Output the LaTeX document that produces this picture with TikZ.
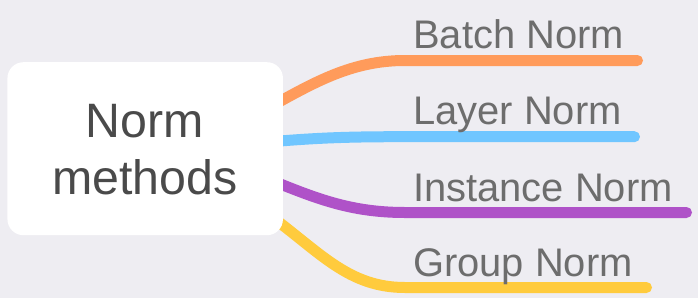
\documentclass[tikz,border=0pt]{standalone}
\usepackage{fontspec}
\setmainfont{Liberation Sans}
\definecolor{canvas}{HTML}{EEEDF2}
\definecolor{rootink}{HTML}{4A4A4A}
\definecolor{leafink}{HTML}{6D6D6D}
\definecolor{brOrange}{HTML}{FF9B5B}
\definecolor{brBlue}{HTML}{70C6FF}
\definecolor{brPurple}{HTML}{AF52C8}
\definecolor{brYellow}{HTML}{FFCB3D}
\tikzset{
  rootbox/.style={fill=white, rounded corners=16pt, minimum width=275.5pt,
    minimum height=173pt, inner sep=0pt, outer sep=0pt},
  roottext/.style={text=rootink, font=\fontsize{48.3}{57}\selectfont,
    anchor=base, inner sep=0pt},
  leaftext/.style={text=leafink, font=\fontsize{39.9}{46}\selectfont,
    anchor=base west, inner sep=0pt},
  branch/.style={line width=11pt, line cap=round},
}
\begin{document}
\begin{tikzpicture}[x=1pt, y=-1pt]
  \fill[canvas] (0,0) rectangle (698,298);
  \useasboundingbox (0,0) rectangle (698,298);

  % branch start points (hidden behind the root box) and ends
  \coordinate (sA) at (268,108);   \coordinate (kA) at (405,60.5);  \coordinate (eA) at (637.5,60.5);
  \coordinate (sB) at (268,142);   \coordinate (kB) at (400,136.7); \coordinate (eB) at (634.5,136.7);
  \coordinate (sC) at (268,179);   \coordinate (kC) at (405,212.5); \coordinate (eC) at (686.5,212.5);
  \coordinate (sD) at (268,214);   \coordinate (kD) at (405,287.5); \coordinate (eD) at (646.5,287.5);

  % branches
  \draw[branch, brOrange] (sA) .. controls (315,82) and (352,60.5) .. (kA) -- (eA);
  \draw[branch, brBlue]   (sB) .. controls (315,138) and (345,136.7) .. (kB) -- (eB);
  \draw[branch, brPurple] (sC) .. controls (315,198) and (350,212.5) .. (kC) -- (eC);
  \draw[branch, brYellow] (sD) .. controls (320,252) and (348,287.5) .. (kD) -- (eD);

  % root topic
  \node[rootbox] (root) at (145.2,148.7) {};
  \node[roottext] (rootA) at (145,137) {Norm};
  \node[roottext] (rootB) at (145,194) {methods};

  % branch labels
  \node[leaftext] (lA) at (413,48.3) {Batch Norm};
  \node[leaftext] (lB) at (413,124) {Layer Norm};
  \node[leaftext] (lC) at (413,201.7) {Instance Norm};
  \node[leaftext] (lD) at (413,276.7) {Group Norm};
\end{tikzpicture}
\end{document}
